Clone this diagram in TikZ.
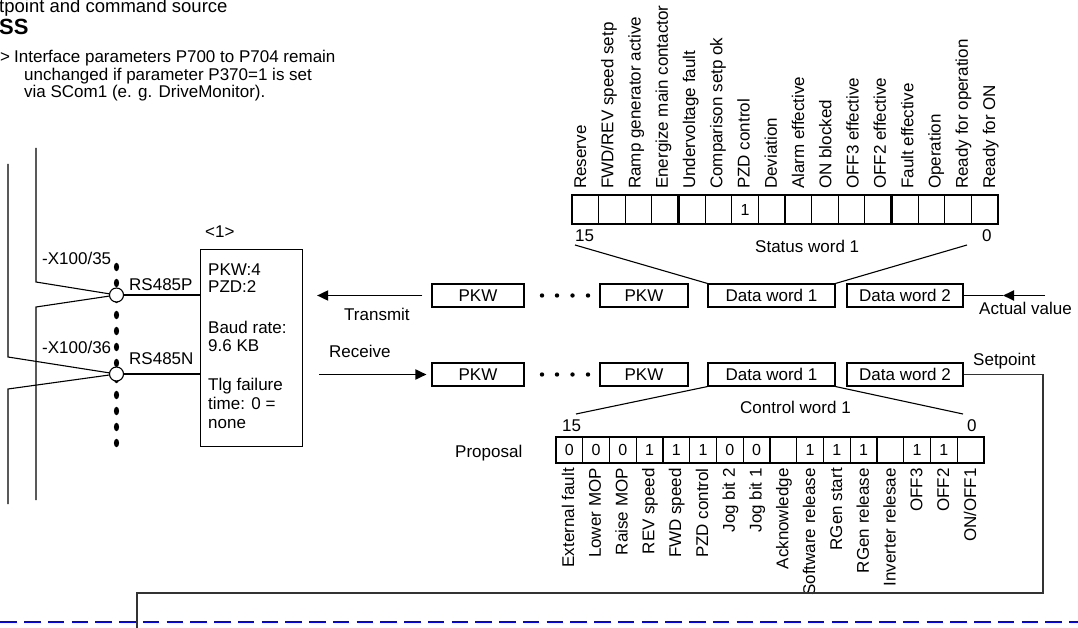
\documentclass[tikz,border=0pt]{standalone}
\usepackage{fontspec}
\setmainfont{Liberation Sans}
\usetikzlibrary{arrows.meta}
\begin{document}
\begin{tikzpicture}[x=1pt,y=-1pt,
  every node/.style={font=\fontsize{17}{18}\selectfont, inner sep=0pt},
  txt/.style={anchor=base west},
  wire/.style={line width=1.1pt, black},
  frame/.style={draw, line width=1.1pt},
  word/.style={draw, line width=1.1pt, minimum height=23pt},
  upl/.style={rotate=90, anchor=base west},
  dnl/.style={rotate=90, anchor=base east},
  bitv/.style={font=\fontsize{16}{16}\selectfont},
  flow/.style={line width=1.8pt, -{Triangle[length=11pt,width=10pt]}},
  nib/.style={line width=2.4pt},
  setline/.style={line width=1.3pt, black!80},
]
\useasboundingbox (0,0) rectangle (1078,628);

% ---- heading and note ----
\node[txt, font=\fontsize{18.5}{18.5}\selectfont] (hd0) at (-1,13) {tpoint and command source};
\node[txt, font=\fontsize{22}{22}\selectfont\bfseries] (hd1) at (-1,35) {SS};
\node[txt] (hd2) at (0,63) {>};
\node[txt] (hd3) at (14,63) {Interface parameters P700 to P704 remain};
\node[txt] (hd4) at (24,80.5) {unchanged if parameter P370=1 is set};
\node[txt] (hd5) at (24,98) {via SCom1 (e. g. DriveMonitor).};

% ---- status word 1 register ----
\foreach \i in {0,...,15}
  \draw[line width=1.1pt] (572+26.625*\i,195) rectangle ++(26.625,29);
\foreach \i in {4,8,12}
  \draw[nib] (572+26.625*\i,195) -- ++(0,29);
\node[bitv] (sv6) at (572+26.625*6.5,210) {1};
\foreach \t [count=\i from 0] in {Reserve, FWD/REV speed setp, Ramp generator active,
    Energize main contactor, Undervoltage fault, Comparison setp ok, PZD control,
    Deviation, Alarm effective, ON blocked, OFF3 effective, OFF2 effective,
    Fault effective, Operation, Ready for operation, Ready for ON}
  \node[upl] (sl\i) at (586+27.27*\i,189) {\t};
\node[txt] (s15) at (575,242) {15};
\node[txt] (s0) at (982,242) {0};
\node[txt] (stw) at (755,253) {Status word 1};
\coordinate (sa) at (575,245);
\coordinate (sb) at (967,245);

% ---- control word 1 register ----
\foreach \i in {0,...,15}
  \draw[line width=1.1pt] (556+26.75*\i,437) rectangle ++(26.75,26);
\foreach \i in {4,8,12}
  \draw[nib] (556+26.75*\i,437) -- ++(0,26);
\foreach \i/\v in {0/0,1/0,2/0,3/1,4/1,5/1,6/0,7/0,9/1,10/1,11/1,13/1,14/1}
  \node[bitv] (cv\i) at (556+26.75*\i+13.4,450) {\v};
\foreach \t [count=\i from 0] in {External fault, Lower MOP, Raise MOP, REV speed,
    FWD speed, PZD control, Jog bit 2, Jog bit 1, Acknowledge, Software release,
    RGen start, RGen release, Inverter relesae, OFF3, OFF2, ON/OFF1}
  \node[dnl] (cl\i) at (574+26.8*\i,468) {\t};
\node[txt] (c15) at (562,431) {15};
\node[txt] (c0) at (967,431) {0};
\node[txt] (ctw) at (740,413) {Control word 1};
\node[txt] (prop) at (455,457) {Proposal};
\coordinate (ca) at (576,414);
\coordinate (cb) at (963,414);

% ---- telegram frames ----
\node[word, minimum width=92pt] (pkwt1) at (478,295.5) {PKW};
\node[word, minimum width=88pt] (pkwt2) at (644,295.5) {PKW};
\node[word, minimum width=127pt] (dw1t) at (771.5,295.5) {Data word 1};
\node[word, minimum width=116pt] (dw2t) at (905,295.5) {Data word 2};
\node[word, minimum width=92pt] (pkwr1) at (478,374.5) {PKW};
\node[word, minimum width=88pt] (pkwr2) at (644,374.5) {PKW};
\node[word, minimum width=127pt] (dw1r) at (771.5,374.5) {Data word 1};
\node[word, minimum width=116pt] (dw2r) at (905,374.5) {Data word 2};
\foreach \x in {542,557,572.5,588} {
  \fill (\x,295.5) circle (2.2);
  \fill (\x,374.5) circle (2.2);
}

\draw[line width=1.1pt] (sa) -- (dw1t.north west);
\draw[line width=1.1pt] (sb) -- (dw1t.north east);
\draw[line width=1.1pt] (ca) -- (dw1r.south west);
\draw[line width=1.1pt] (cb) -- (dw1r.south east);

% ---- interface block ----
\node[frame, minimum width=102pt, minimum height=197pt, anchor=north west] (unit) at (200,249) {};
\node[txt] (ulbl) at (205,238) {<1>};
\node[txt] (b1) at (208,275) {PKW:4};
\node[txt] (b2) at (208,292) {PZD:2};
\node[txt] (b3) at (208,333) {Baud rate:};
\node[txt] (b4) at (208,351) {9.6 KB};
\node[txt] (b5) at (208,390) {Tlg failure};
\node[txt] (b6) at (208,409) {time: 0 =};
\node[txt] (b7) at (208,428) {none};

\draw[flow, shorten <=9pt, shorten >=14pt] (pkwt1.west) -- (unit.east |- pkwt1.west);
\draw[flow, shorten <=16pt, shorten >=5pt] (unit.east |- pkwr1.west) -- (pkwr1.west);
\node[txt] (ttx) at (344,320) {Transmit};
\node[txt] (trx) at (329,357) {Receive};

% actual value input
\coordinate (avs) at (1045,295.5);
\coordinate (avt) at (1003,295.5);
\draw[line width=1.8pt] (avt) -- (dw2t.east);
\draw[flow] (avs) -- (avt);
\node[txt] (avl) at (979,314) {Actual value};

% setpoint output
\node[txt] (spl) at (973,365) {Setpoint};
\coordinate (spc) at (1043,593);
\coordinate (spd) at (137,593);
\coordinate (spe) at (137,632);
\draw[setline] (dw2r.east) -| (spc) -- (spd) -- (spe);

% ---- bus terminals ----
\foreach \k in {0,...,11}
  \fill (116.5,267+16*\k) ellipse [x radius=2.6, y radius=4.2];
\node[draw, circle, fill=white, line width=1.1pt, minimum size=14pt] (j1) at (116.5,295) {};
\node[draw, circle, fill=white, line width=1.1pt, minimum size=14pt] (j2) at (116.5,374) {};
\draw[line width=1.8pt] (j1) -- (j1 -| unit.west);
\draw[line width=1.8pt] (j2) -- (j2 -| unit.west);

\coordinate (a1) at (36,148);
\coordinate (a2) at (36,282);
\coordinate (b1c) at (36,307);
\coordinate (b2c) at (36,500);
\coordinate (c1) at (8,164);
\coordinate (c2) at (8,357);
\coordinate (d1) at (8,389);
\coordinate (d2) at (8,504);
\draw[wire] (a1) -- (a2) -- (j1);
\draw[wire] (j1) -- (b1c) -- (b2c);
\draw[wire] (c1) -- (c2) -- (j2);
\draw[wire] (j2) -- (d1) -- (d2);

\node[txt] (x35) at (42,265) {-X100/35};
\node[txt] (x36) at (42,353) {-X100/36};
\node[txt] (rsp) at (129,290) {RS485P};
\node[txt] (rsn) at (129,364) {RS485N};

% ---- boundary line ----
\coordinate (bl1) at (0.25,622);
\coordinate (bl2) at (1078,622);
\draw[blue, line width=1.3pt, dash pattern=on 16.7pt off 7.05pt] (bl1) -- (bl2);
\end{tikzpicture}
\end{document}
